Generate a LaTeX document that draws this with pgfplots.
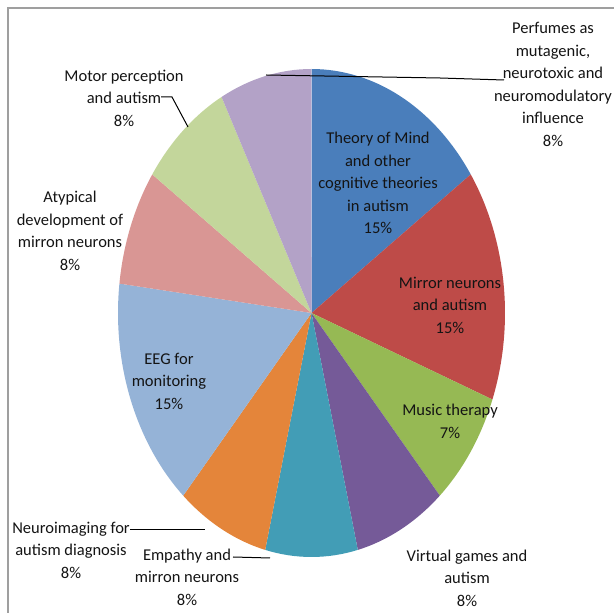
\documentclass[border=0pt]{standalone}
\usepackage{pgfplots}
\usepackage{pgfplotstable}
\pgfplotsset{compat=1.18}
\usepackage{fontspec}
\setmainfont{Carlito}

\definecolor{slice0}{RGB}{74,126,187}
\definecolor{slice1}{RGB}{190,75,72}
\definecolor{slice2}{RGB}{150,185,84}
\definecolor{slice3}{RGB}{117,90,152}
\definecolor{slice4}{RGB}{66,157,182}
\definecolor{slice5}{RGB}{228,133,58}
\definecolor{slice6}{RGB}{149,179,215}
\definecolor{slice7}{RGB}{217,150,148}
\definecolor{slice8}{RGB}{195,214,155}
\definecolor{slice9}{RGB}{179,162,199}
\definecolor{txt}{RGB}{20,20,20}

% slices clockwise from 12 o'clock, in percent
\pgfplotstableread{
idx value
0 15.385
1 15.385
2 7.692
3 7.692
4 7.692
5 7.692
6 15.385
7 7.692
8 7.692
9 7.692
}\piedata

\begin{document}
\begin{tikzpicture}
\useasboundingbox (0,0) rectangle (614pt,613pt);
\begin{axis}[x=1pt,y=1pt,xmin=0,xmax=614,ymin=0,ymax=613,hide axis,clip=false,
  at={(0,0)},anchor=south west]
\pgfmathsetmacro\startang{90}
\pgfplotsforeachungrouped \i in {0,...,9}{%
  \pgfplotstablegetelem{\i}{value}\of\piedata
  \pgfmathsetmacro\endang{\startang-3.6*\pgfplotsretval}%
  \pgfmathsetmacro\sx{311.5+193.5*cos(\startang)}%
  \pgfmathsetmacro\sy{300+244*sin(\startang)}%
  \edef\cmd{\noexpand\fill[slice\i] (axis cs:311.5,300) -- (axis cs:\sx,\sy) arc[start angle=\startang, end angle=\endang, x radius=193.5pt, y radius=244pt] -- cycle;}%
  \cmd
  \global\let\startang\endang
}
\draw[gray!75,line width=1.5pt] (axis cs:8,0) -- (axis cs:8,605) -- (axis cs:614,605);
\tikzset{lbl/.style={align=center,text=txt,inner sep=0pt,font=\fontsize{16.5}{22.5}\selectfont}}
\node[lbl] at (axis cs:378,430) {Theory of Mind\\and other\\cognitive theories\\in autism\\15\%};
\node[lbl] at (axis cs:450,308) {Mirror neurons\\and autism\\15\%};
\node[lbl] at (axis cs:450,191.5) {Music therapy\\7\%};
\node[lbl] at (axis cs:467,35) {Virtual games and\\autism\\8\%};
\node[lbl] at (axis cs:187,36) {Empathy and\\mirron neurons\\8\%};
\node[lbl] at (axis cs:71,63) {Neuroimaging for\\autism diagnosis\\8\%};
\node[lbl] at (axis cs:169,232) {EEG for\\monitoring\\15\%};
\node[lbl] at (axis cs:70,382) {Atypical\\development of\\mirron neurons\\8\%};
\node[lbl] at (axis cs:124,515) {Motor perception\\and autism\\8\%};
\node[lbl] at (axis cs:553,528.5) {Perfumes as\\mutagenic,\\neurotoxic and\\neuromodulatory\\influence\\8\%};
\draw[black,line width=1pt] (axis cs:266,538) -- (axis cs:440,535) -- (axis cs:504,533);
\draw[black,line width=1pt] (axis cs:161,516) -- (axis cs:172,516) -- (axis cs:188,486);
\draw[black,line width=1pt] (axis cs:130,83) -- (axis cs:205,83);
\draw[black,line width=1pt] (axis cs:233,56) -- (axis cs:270,55);
\end{axis}
\end{tikzpicture}
\end{document}
